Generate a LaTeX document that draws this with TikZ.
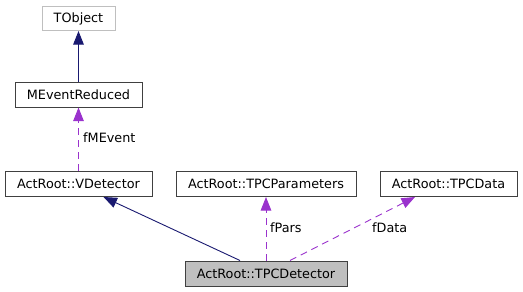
\documentclass[tikz,border=0pt]{standalone}
\usepackage{fontspec}
\setmainfont{DejaVu Sans}
\usetikzlibrary{arrows.meta,calc}
\definecolor{edgeblue}{HTML}{191970}
\definecolor{edgepurple}{HTML}{9A32CD}
\definecolor{boxgray}{HTML}{BFBFBF}
\definecolor{boxborder}{HTML}{404040}
\begin{document}
\begin{tikzpicture}[x=1pt,y=-1pt,
  font=\fontsize{12.8}{15}\selectfont,
  cls/.style={draw=boxborder,line width=1pt,fill=white,inner sep=0pt,minimum height=25pt},
  extcls/.style={cls,draw=boxgray},
  curcls/.style={cls,fill=boxgray},
  inherit/.style={draw=edgeblue,line width=0.9pt,-{Triangle[length=13.5pt,width=10.5pt,fill=edgeblue]}},
  usage/.style={draw=edgepurple,line width=0.9pt,dash pattern=on 7pt off 5pt,-{Triangle[length=13.5pt,width=10.5pt,fill=edgepurple]}},
  elabel/.style={anchor=west,inner sep=0pt,text=black}]
\useasboundingbox (0,0) rectangle (523,292);
% classes
\node[extcls,minimum width=73pt,minimum height=24pt] (tobject) at (78.5,18.5) {TObject};
\node[cls,minimum width=127pt] (mevent) at (78.5,94.5) {MEventReduced};
\node[cls,minimum width=147pt] (vdet) at (78.5,184) {ActRoot::VDetector};
\node[cls,minimum width=180pt] (tpcpar) at (266,184) {ActRoot::TPCParameters};
\node[cls,minimum width=137pt] (tpcdata) at (448.5,184) {ActRoot::TPCData};
\node[curcls,minimum width=162pt] (tpcdet) at (266,273.5) {ActRoot::TPCDetector};
% inheritance
\draw[inherit] (mevent.north) -- (tobject.south);
\draw[inherit] ($(tpcdet.north)+(-26,0)$) -- ($(vdet.south)+(25,0)$);
% members
\draw[usage] (vdet.north) -- (mevent.south);
\draw[usage] (tpcdet.north) -- (tpcpar.south);
\draw[usage] ($(tpcdet.north)+(24,0)$) -- ($(tpcdata.south)+(-33.5,0)$);
% member names
\node[elabel] (lmevent) at (83,138) {fMEvent};
\node[elabel] (lpars) at (270,228) {fPars};
\node[elabel] (ldata) at (372,228) {fData};
\end{tikzpicture}
\end{document}
